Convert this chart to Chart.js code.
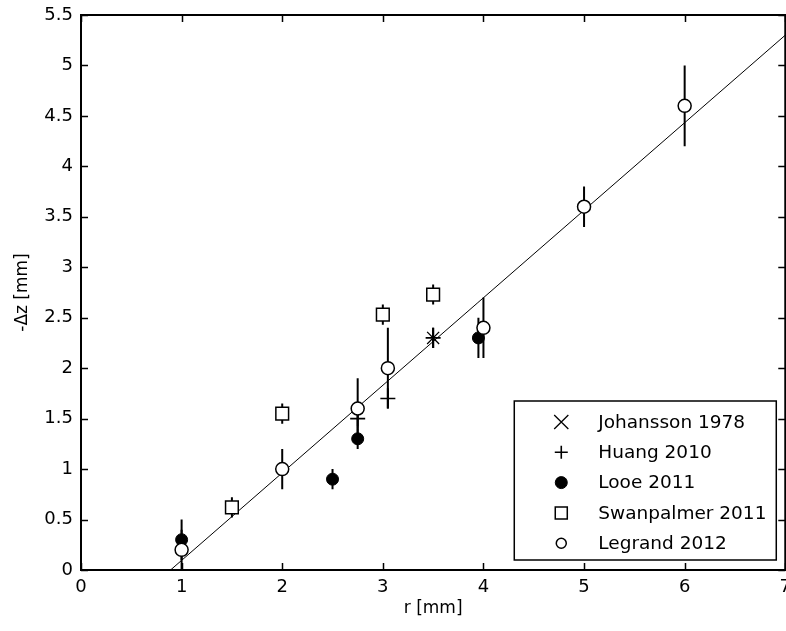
<!DOCTYPE html>
<html><head><meta charset="utf-8">
<script src="https://cdn.jsdelivr.net/npm/chart.js@4.4.1/dist/chart.umd.min.js"></script>
<style>html,body{margin:0;padding:0;background:#fff;overflow:hidden;width:786px;height:631px}canvas{display:block}</style>
</head><body>
<canvas id="c" width="798" height="631"></canvas>
<script>
// ---- data ----
const seriesNames = ['Johansson 1978', 'Huang 2010', 'Looe 2011', 'Swanpalmer 2011', 'Legrand 2012'];
const johanssonR = [3.5];
const johanssonDz = [2.3];
const johanssonErr = [0.1];
const huangR = [2.75, 3.05, 3.5];
const huangDz = [1.5, 1.7, 2.3];
const huangErr = [0.1, 0.1, 0.1];
const looeR = [1, 2.5, 2.75, 3.95];
const looeDz = [0.3, 0.9, 1.3, 2.3];
const looeErr = [0.2, 0.1, 0.1, 0.2];
const swanR = [1.5, 2, 3, 3.5];
const swanDz = [0.62, 1.55, 2.53, 2.73];
const swanErr = [0.1, 0.1, 0.1, 0.1];
const legrandR = [1, 2, 2.75, 3.05, 4, 5, 6];
const legrandDz = [0.2, 1.0, 1.6, 2.0, 2.4, 3.6, 4.6];
const legrandErr = [0.2, 0.2, 0.3, 0.4, 0.3, 0.2, 0.4];
const fitR = [0.89, 7];
const fitDz = [0, 5.3];
const xTicks = [0, 1, 2, 3, 4, 5, 6, 7];
const yTicks = [0, 0.5, 1, 1.5, 2, 2.5, 3, 3.5, 4, 4.5, 5, 5.5];
const xTitle = 'r [mm]';
const yTitle = '-\u0394z [mm]';

const pts = (xs, ys) => xs.map((x, i) => ({x: x, y: ys[i]}));
const FONT = 'DejaVu Sans';

const datasets = [
  {label: seriesNames[0], data: pts(johanssonR, johanssonDz), errors: johanssonErr, order: 5,
   pointStyle: 'crossRot', pointRadius: 8.5, borderColor: '#000', backgroundColor: '#000', pointBorderWidth: 1.3,
   legendRadius: 10},
  {label: seriesNames[1], data: pts(huangR, huangDz), errors: huangErr, order: 4,
   pointStyle: 'cross', pointRadius: 7.5, borderColor: '#000', backgroundColor: '#000', pointBorderWidth: 1.6,
   legendRadius: 6.5},
  {label: seriesNames[2], data: pts(looeR, looeDz), errors: looeErr, order: 3,
   pointStyle: 'circle', pointRadius: 6, borderColor: '#000', backgroundColor: '#000', pointBorderWidth: 1,
   legendRadius: 6},
  {label: seriesNames[3], data: pts(swanR, swanDz), errors: swanErr, order: 2,
   pointStyle: 'rect', pointRadius: 9, borderColor: '#000', backgroundColor: '#fff', pointBorderWidth: 1.5,
   legendRadius: 8.5},
  {label: seriesNames[4], data: pts(legrandR, legrandDz), errors: legrandErr, order: 1,
   pointStyle: 'circle', pointRadius: 6.5, borderColor: '#000', backgroundColor: '#fff', pointBorderWidth: 1.5,
   legendRadius: 5},
  {label: 'fit', data: pts(fitR, fitDz), order: 6, showLine: true, pointRadius: 0,
   borderColor: '#000', borderWidth: 1, isFit: true}
];

const errorBars = {
  id: 'errorBars',
  beforeDatasetsDraw(chart) {
    const ctx = chart.ctx, xs = chart.scales.x, ys = chart.scales.y, a = chart.chartArea;
    ctx.save();
    ctx.beginPath(); ctx.rect(a.left, a.top, a.right - a.left, a.bottom - a.top); ctx.clip();
    ctx.strokeStyle = '#000'; ctx.lineWidth = 2;
    chart.data.datasets.forEach(ds => {
      if (!ds.errors) return;
      ds.data.forEach((p, i) => {
        const px = xs.getPixelForValue(p.x);
        ctx.beginPath();
        ctx.moveTo(px, ys.getPixelForValue(p.y - ds.errors[i]));
        ctx.lineTo(px, ys.getPixelForValue(p.y + ds.errors[i]));
        ctx.stroke();
      });
    });
    ctx.restore();
  }
};

const frame = {
  id: 'frame',
  afterDraw(chart) {
    const ctx = chart.ctx, xs = chart.scales.x, ys = chart.scales.y, a = chart.chartArea;
    const L = 7;
    ctx.save();
    ctx.strokeStyle = '#000';
    ctx.lineWidth = 1.5;
    ctx.beginPath();
    xTicks.forEach(v => {
      const px = Math.round(xs.getPixelForValue(v)) + 0.5;
      ctx.moveTo(px, a.bottom); ctx.lineTo(px, a.bottom - L);
      ctx.moveTo(px, a.top); ctx.lineTo(px, a.top + L);
    });
    yTicks.forEach(v => {
      const py = Math.round(ys.getPixelForValue(v)) + 0.5;
      ctx.moveTo(a.left, py); ctx.lineTo(a.left + L, py);
      ctx.moveTo(a.right, py); ctx.lineTo(a.right - L, py);
    });
    ctx.stroke();
    ctx.lineWidth = 2;
    ctx.strokeRect(a.left, a.top, a.right - a.left, a.bottom - a.top);

    // legend (inside plot, bottom right)
    const w = 262, h = 159;
    const bx = a.right - 9 - w, by = a.bottom - 10 - h;
    ctx.fillStyle = '#fff';
    ctx.fillRect(bx, by, w, h);
    ctx.lineWidth = 1.5;
    ctx.strokeRect(bx, by, w, h);
    const items = chart.data.datasets.filter(d => !d.isFit);
    ctx.font = '18.5px "' + FONT + '"';
    ctx.textBaseline = 'middle';
    ctx.textAlign = 'left';
    items.forEach((ds, i) => {
      const cy = by + 21 + i * 30.3;
      const mx = bx + 47;
      ctx.strokeStyle = ds.borderColor;
      ctx.fillStyle = ds.backgroundColor;
      ctx.lineWidth = ds.pointBorderWidth;
      Chart.helpers.drawPoint(ctx, {pointStyle: ds.pointStyle, radius: ds.legendRadius, rotation: 0, borderWidth: ds.pointBorderWidth}, mx, cy);
      ctx.fillStyle = '#000';
      ctx.fillText(ds.label, bx + 84, cy + 1);
    });
    ctx.restore();
  }
};

new Chart(document.getElementById('c'), {
  type: 'scatter',
  data: {datasets: datasets},
  options: {
    responsive: false,
    animation: false,
    events: [],
    layout: {padding: {top: 15, right: 1, left: 0, bottom: 0}},
    plugins: {legend: {display: false}, tooltip: {enabled: false}},
    scales: {
      x: {
        type: 'linear', min: 0, max: 7,
        afterBuildTicks: s => { s.ticks = xTicks.map(v => ({value: v})); },
        afterFit: s => { s.height = 61; },
        grid: {display: false, drawTicks: false},
        border: {display: false},
        ticks: {color: '#000', padding: 7, font: {family: FONT, size: 18}, maxRotation: 0, autoSkip: false,
                callback: v => String(v)},
        title: {display: true, text: xTitle, color: '#000', font: {family: FONT, size: 17}, padding: {top: 0, bottom: 12}}
      },
      y: {
        type: 'linear', min: 0, max: 5.5,
        afterBuildTicks: s => { s.ticks = yTicks.map(v => ({value: v})); },
        afterFit: s => { s.width = 81; s.paddingTop = 0; s.paddingBottom = 0; },
        grid: {display: false, drawTicks: false},
        border: {display: false},
        ticks: {color: '#000', padding: 8, font: {family: FONT, size: 18}, autoSkip: false,
                callback: v => String(v)},
        title: {display: true, text: yTitle, color: '#000', font: {family: FONT, size: 17}, padding: {top: 12, bottom: 0}}
      }
    }
  },
  plugins: [errorBars, frame]
});
</script>
</body></html>
